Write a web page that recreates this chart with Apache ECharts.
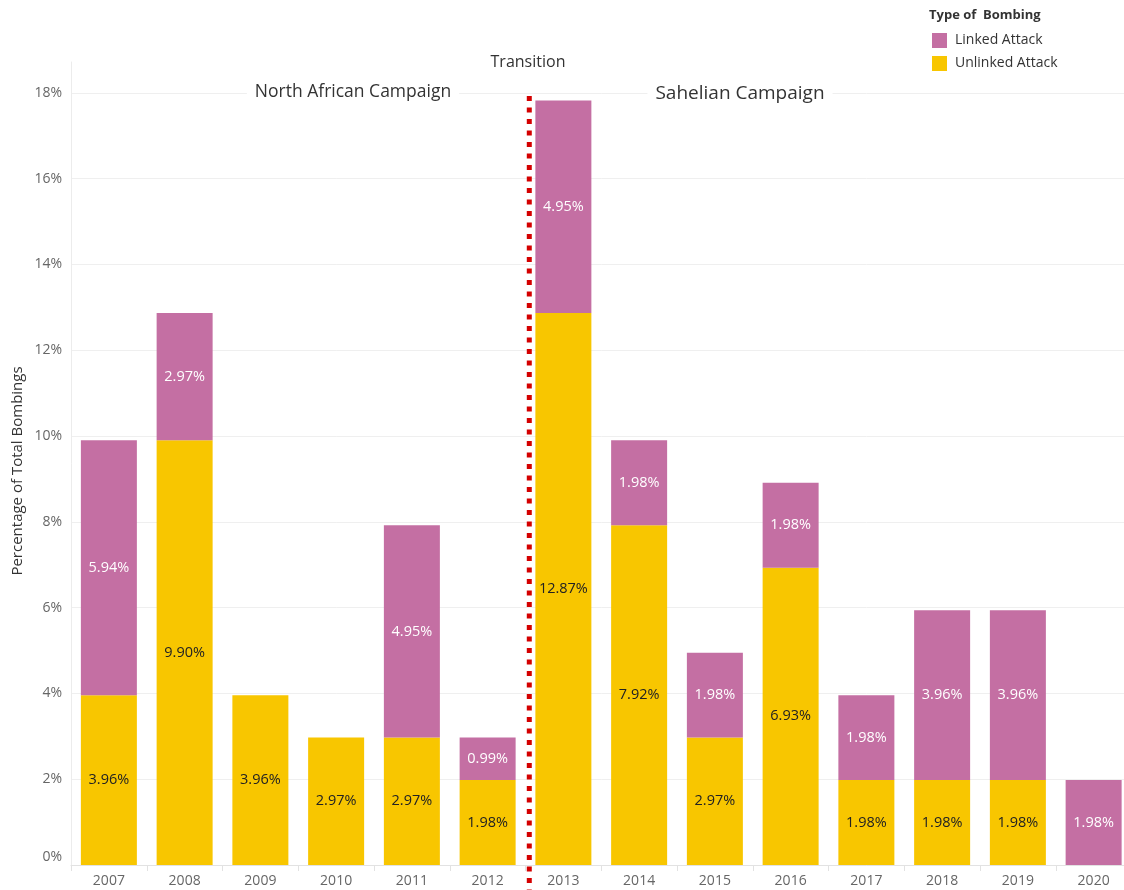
<!DOCTYPE html>
<html>
<head>
<meta charset="utf-8">
<script src="https://cdn.jsdelivr.net/npm/echarts@6/dist/echarts.min.js"></script>
<style>
html,body{margin:0;padding:0;background:#fff;overflow:hidden;}
#chart{width:1140px;height:890px;}
</style>
</head>
<body>
<div id="chart"></div>
<script>
var years = ['2007','2008','2009','2010','2011','2012','2013','2014','2015','2016','2017','2018','2019','2020'];
var linked = [5.94, 2.97, null, null, 4.95, 0.99, 4.95, 1.98, 1.98, 1.98, 1.98, 3.96, 3.96, 1.98];
var unlinked = [3.96, 9.90, 3.96, 2.97, 2.97, 1.98, 12.87, 7.92, 2.97, 6.93, 1.98, 1.98, 1.98, null];
var yTicks = [0, 2, 4, 6, 8, 10, 12, 14, 16, 18];
var transitionLine = [[5.55, 17.93], [5.55, -0.58]];

var FONT = '"Open Sans", "Noto Sans", sans-serif';
var PINK = '#C46FA3';
var YELLOW = '#F8C600';

var chart = echarts.init(document.getElementById('chart'));
chart.setOption({
  animation: false,
  textStyle: { fontFamily: FONT },
  grid: { left: 71, top: 62, height: 803, width: 1060.5, containLabel: false },
  legend: {
    orient: 'vertical',
    left: 927, top: 28,
    itemWidth: 15, itemHeight: 15, itemGap: 8,
    icon: 'rect',
    data: ['Linked Attack', 'Unlinked Attack'],
    textStyle: { fontSize: 14, color: '#333', fontFamily: FONT, padding: [0, 0, 0, 3] }
  },
  xAxis: [{
    type: 'category',
    data: years,
    axisLine: { show: true, onZero: false, lineStyle: { color: '#e2e2e2' } },
    axisTick: { show: true, interval: 0, length: 6, lineStyle: { color: '#e2e2e2' } },
    axisLabel: { color: '#666', fontSize: 14, margin: 9, fontFamily: FONT },
    splitLine: { show: false }
  }, {
    type: 'value', min: -0.5, max: 13.5, show: false,
    axisLine: { show: false, onZero: false }, axisTick: { show: false },
    axisLabel: { show: false }, splitLine: { show: false }
  }],
  yAxis: {
    type: 'value',
    min: 0, max: 18.72, interval: 2,
    axisLine: { show: true, onZero: false, lineStyle: { color: '#ececec' } },
    axisTick: { show: false },
    splitLine: { show: true, showMaxLine: false, lineStyle: { color: '#efefef' } },
    axisLabel: {
      showMaxLabel: false,
      color: '#666', fontSize: 14, margin: 9, fontFamily: FONT,
      formatter: function (v) {
        if (yTicks.indexOf(v) < 0) return '';
        return v === 0 ? '{z|0%}' : v + '%';
      },
      rich: { z: { color: '#666', fontSize: 14, fontFamily: FONT, padding: [0, 0, 16, 0] } }
    }
  },
  series: [{
    name: 'Unlinked Attack',
    type: 'bar',
    stack: 'total',
    barWidth: 56,
    data: unlinked,
    itemStyle: { color: YELLOW },
    label: {
      show: true, position: 'inside', color: '#222', fontSize: 14.5, fontFamily: FONT,
      formatter: function (p) { return p.value.toFixed(2) + '%'; }
    }
  }, {
    name: 'Linked Attack',
    type: 'bar',
    stack: 'total',
    barWidth: 56,
    data: linked,
    itemStyle: { color: PINK },
    label: {
      show: true, position: 'inside', color: '#fff', fontSize: 14.5, fontFamily: FONT,
      formatter: function (p) { return p.value.toFixed(2) + '%'; }
    }
  }, {
    name: 'Transition',
    type: 'line',
    xAxisIndex: 1,
    data: transitionLine,
    showSymbol: false,
    symbol: 'none',
    clip: false,
    silent: true,
    z: 5,
    lineStyle: { color: '#D40000', width: 5, type: [5, 6.5], cap: 'butt' }
  }],
  graphic: [
    { type: 'text', left: 929, top: 9, z: 100,
      style: { text: 'Type of  Bombing', font: 'bold 13px ' + FONT, fill: '#333' } },
    { type: 'text', x: 353, y: 92, z: 100,
      style: { text: 'North African Campaign', font: '17.5px ' + FONT, fill: '#333',
        align: 'center', verticalAlign: 'middle', backgroundColor: '#fff', padding: [2, 8] } },
    { type: 'text', x: 740, y: 94, z: 100,
      style: { text: 'Sahelian Campaign', font: '19px ' + FONT, fill: '#333',
        align: 'center', verticalAlign: 'middle', backgroundColor: '#fff', padding: [2, 8] } },
    { type: 'text', x: 528, y: 62, z: 100,
      style: { text: 'Transition', font: '16px ' + FONT, fill: '#333',
        align: 'center', verticalAlign: 'middle', backgroundColor: '#fff', padding: [2, 4] } },
    { type: 'text', x: 18, y: 471, rotation: Math.PI / 2, z: 100,
      style: { text: 'Percentage of Total Bombings', font: '15px ' + FONT, fill: '#333',
        align: 'center', verticalAlign: 'middle' } }
  ]
});
</script>
</body>
</html>
